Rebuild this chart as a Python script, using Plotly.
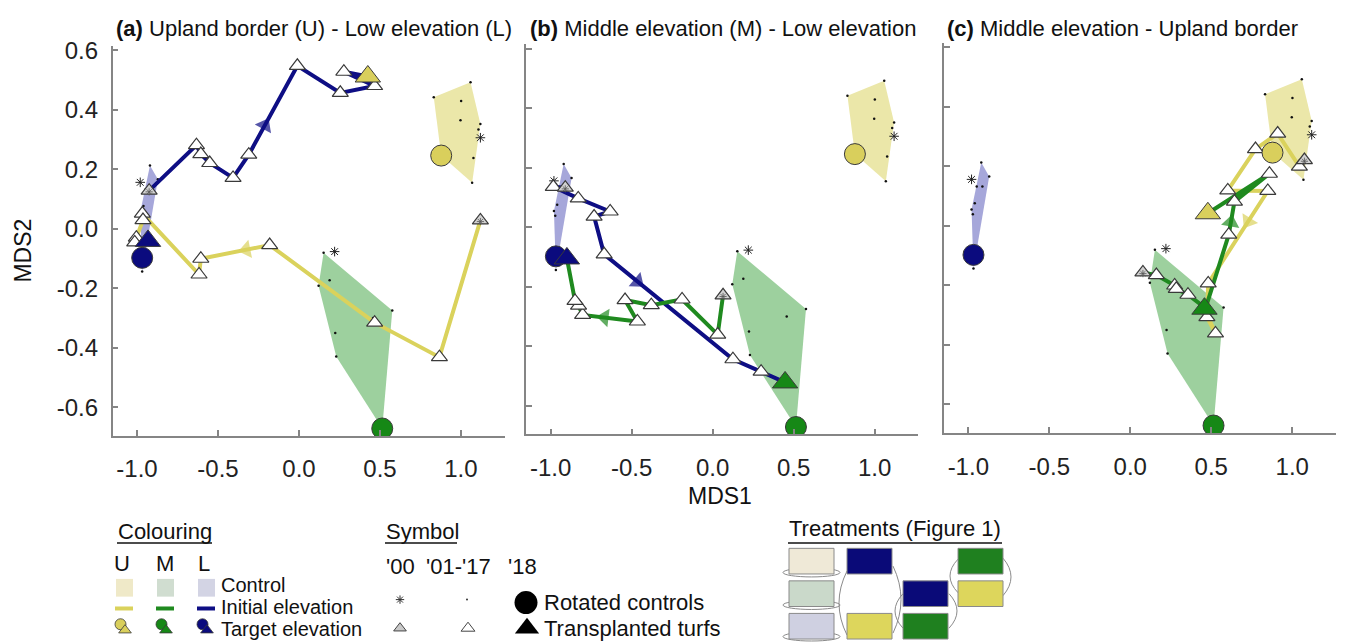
import plotly.graph_objects as go

# ---------------- data ----------------
# Control plots (shared by all panels): '01-'17 dots, '00 star, '18 rotated control circle
U_ctrl_x = [0.832, 1.059, 1.001, 0.997, 1.120, 1.108, 1.077, 1.069]
U_ctrl_y = [0.442, 0.493, 0.430, 0.365, 0.352, 0.334, 0.238, 0.155]
U_ctrl00 = [1.120, 0.306]
U_rot18 = [0.878, 0.246]

M_ctrl_x = [0.152, 0.121, 0.189, 0.576, 0.457, 0.224, 0.230]
M_ctrl_y = [-0.081, -0.192, -0.173, -0.275, -0.300, -0.351, -0.430]
M_ctrl00 = [0.220, -0.077]
M_rot18 = [0.514, -0.672]

L_ctrl_x = [-0.920, -0.871, -0.948, -0.913, -0.960, -0.980, -0.972, -0.968]
L_ctrl_y = [0.213, 0.166, 0.132, 0.132, 0.076, 0.055, 0.039, -0.144]
L_ctrl00 = [-0.980, 0.156]
L_rot18 = [-0.968, -0.098]

# Transplant trajectories: first = '00, last = '18 (target elevation)
A_L_to_U_x = [-0.925, -0.633, -0.606, -0.551, -0.407, -0.310, -0.010, 0.255, 0.467, 0.277, 0.425]
A_L_to_U_y = [0.128, 0.281, 0.251, 0.221, 0.171, 0.249, 0.548, 0.457, 0.480, 0.528, 0.512]
A_U_to_L_x = [1.120, 0.867, 0.467, -0.181, -0.606, -0.617, -0.967, -0.963, -1.004, -1.014, -0.932]
A_U_to_L_y = [0.028, -0.432, -0.316, -0.055, -0.101, -0.154, 0.051, 0.029, -0.030, -0.046, -0.041]

B_L_to_M_x = [-0.910, -0.984, -0.830, -0.633, -0.732, -0.670, 0.125, 0.299, 0.447]
B_L_to_M_y = [0.133, 0.136, 0.097, 0.053, 0.036, -0.091, -0.444, -0.486, -0.522]
B_M_to_L_x = [0.064, 0.031, -0.189, -0.379, -0.541, -0.465, -0.803, -0.828, -0.850, -0.900]
B_M_to_L_y = [-0.229, -0.361, -0.243, -0.262, -0.245, -0.317, -0.295, -0.264, -0.248, -0.105]

C_U_to_M_x = [1.075, 1.044, 0.910, 0.773, 0.602, 0.849, 0.481, 0.473, 0.526, 0.458]
C_U_to_M_y = [0.221, 0.199, 0.310, 0.258, 0.119, 0.117, -0.194, -0.307, -0.362, -0.279]
C_M_to_U_x = [0.078, 0.161, 0.274, 0.284, 0.356, 0.465, 0.608, 0.643, 0.859, 0.479]
C_M_to_U_y = [-0.157, -0.166, -0.201, -0.212, -0.232, -0.277, -0.030, 0.081, 0.175, 0.042]

panel_titles = ["<b>(a)</b> Upland border (U) - Low elevation (L)",
                "<b>(b)</b> Middle elevation (M) - Low elevation",
                "<b>(c)</b> Middle elevation - Upland border"]
x_tickvals = [-1.0, -0.5, 0.0, 0.5, 1.0]
x_ticktext = ["-1.0", "-0.5", "0.0", "0.5", "1.0"]
y_tickvals = [-0.6, -0.4, -0.2, 0.0, 0.2, 0.4, 0.6]
y_ticktext = ["-0.6", "-0.4", "-0.2", "0.0", "0.2", "0.4", "0.6"]

# ---------------- style ----------------
FONT = "Liberation Sans, Arial, sans-serif"
W, H = 1346, 642
COL = {
    "U": dict(hull="#ebe7a9", line="#dad25c", mark="#d9cf5c"),
    "M": dict(hull="#9dd09e", line="#1f8a1f", mark="#168816"),
    "L": dict(hull="#a6a7da", line="#0e0e84", mark="#0b0b7e"),
}
EDGE = "#3a3a3a"


def convex_hull(xs, ys):
    pts = sorted(set(zip(xs, ys)))

    def cross(o, a, b):
        return (a[0] - o[0]) * (b[1] - o[1]) - (a[1] - o[1]) * (b[0] - o[0])

    lower, upper = [], []
    for p in pts:
        while len(lower) >= 2 and cross(lower[-2], lower[-1], p) <= 0:
            lower.pop()
        lower.append(p)
    for p in reversed(pts):
        while len(upper) >= 2 and cross(upper[-2], upper[-1], p) <= 0:
            upper.pop()
        upper.append(p)
    h = lower[:-1] + upper[:-1]
    h.append(h[0])
    return [p[0] for p in h], [p[1] for p in h]


controls = [
    ("U", U_ctrl_x, U_ctrl_y, U_ctrl00, U_rot18),
    ("M", M_ctrl_x, M_ctrl_y, M_ctrl00, M_rot18),
    ("L", L_ctrl_x, L_ctrl_y, L_ctrl00, L_rot18),
]

# (x, y, initial colour, target colour, arrow segment, arrow fraction)
panels = [
    [(A_L_to_U_x, A_L_to_U_y, "L", "U", 5, 0.33), (A_U_to_L_x, A_U_to_L_y, "U", "L", 3, 0.34)],
    [(B_L_to_M_x, B_L_to_M_y, "L", "M", 5, 0.26), (B_M_to_L_x, B_M_to_L_y, "M", "L", 5, 0.60)],
    [(C_U_to_M_x, C_U_to_M_y, "U", "M", 5, 0.33), (C_M_to_U_x, C_M_to_U_y, "M", "U", 6, 0.37)],
]

fig = go.Figure()

for k, paths in enumerate(panels, start=1):
    xa = "x" if k == 1 else f"x{k}"
    ya = "y" if k == 1 else f"y{k}"
    # hulls
    for key, cx, cy, c00, c18 in controls:
        hx, hy = convex_hull(cx + [c18[0]], cy + [c18[1]])
        fig.add_trace(go.Scatter(x=hx, y=hy, xaxis=xa, yaxis=ya, mode="lines", fill="toself",
                                 fillcolor=COL[key]["hull"], line=dict(width=0), hoverinfo="skip"))
    for key, cx, cy, c00, c18 in controls:
        fig.add_trace(go.Scatter(x=cx, y=cy, xaxis=xa, yaxis=ya, mode="markers",
                                 marker=dict(size=2.5, color="#111"), hoverinfo="skip"))
        fig.add_trace(go.Scatter(x=[c00[0]], y=[c00[1]], xaxis=xa, yaxis=ya, mode="markers",
                                 marker=dict(symbol="asterisk-open", size=8, color="#222",
                                             line=dict(width=1, color="#222")),
                                 hoverinfo="skip"))
    # trajectory lines
    for px, py, ini, tgt, seg, frac in paths:
        fig.add_trace(go.Scatter(x=px, y=py, xaxis=xa, yaxis=ya, mode="lines",
                                 line=dict(width=4, color=COL[ini]["line"]), hoverinfo="skip"))
    for px, py, ini, tgt, seg, frac in paths:
        ax = px[seg] + frac * (px[seg + 1] - px[seg])
        ay = py[seg] + frac * (py[seg + 1] - py[seg])
        fig.add_trace(go.Scatter(x=[px[seg], ax], y=[py[seg], ay], xaxis=xa, yaxis=ya, mode="markers",
                                 marker=dict(symbol="triangle-up", size=[0, 16], angleref="previous",
                                             color=COL[ini]["line"], line=dict(width=0)),
                                 hoverinfo="skip"))
    # yearly triangles
    for px, py, ini, tgt, seg, frac in paths:
        fig.add_trace(go.Scatter(x=px[1:-1], y=py[1:-1], xaxis=xa, yaxis=ya, mode="markers",
                                 marker=dict(symbol="triangle-up", size=14, color="white",
                                             line=dict(width=1.2, color=EDGE)), hoverinfo="skip"))
        fig.add_trace(go.Scatter(x=[px[0]], y=[py[0]], xaxis=xa, yaxis=ya, mode="markers",
                                 marker=dict(symbol="triangle-up", size=14, color="#d2d2d2",
                                             line=dict(width=1.2, color=EDGE)), hoverinfo="skip"))
        fig.add_trace(go.Scatter(x=[px[0]], y=[py[0] - 0.004], xaxis=xa, yaxis=ya, mode="markers",
                                 marker=dict(symbol="asterisk-open", size=6, color="#555",
                                             line=dict(width=0.8, color="#555")),
                                 hoverinfo="skip"))
    # rotated controls ('18)
    for key, cx, cy, c00, c18 in controls:
        fig.add_trace(go.Scatter(x=[c18[0]], y=[c18[1]], xaxis=xa, yaxis=ya, mode="markers",
                                 marker=dict(symbol="circle", size=21, color=COL[key]["mark"],
                                             line=dict(width=1, color=EDGE)), hoverinfo="skip"))
    # transplanted turfs ('18)
    for px, py, ini, tgt, seg, frac in paths:
        fig.add_trace(go.Scatter(x=[px[-1]], y=[py[-1]], xaxis=xa, yaxis=ya, mode="markers",
                                 marker=dict(symbol="triangle-up", size=22, color=COL[tgt]["mark"],
                                             line=dict(width=1, color=EDGE)), hoverinfo="skip"))

# ---------------- legend (overlay in pixel space) ----------------
def lg(x, y, **m):
    fig.add_trace(go.Scatter(x=x, y=y, xaxis="x4", yaxis="y4", mode="markers", marker=m, hoverinfo="skip"))

icon_x = [120.5, 161.5, 202.5]
for key, ix in zip(["U", "M", "L"], icon_x):
    lg([ix], [624], symbol="circle", size=11, color=COL[key]["mark"], line=dict(width=0.8, color=EDGE))
    lg([ix + 4.5], [630], symbol="triangle-up", size=11, color=COL[key]["mark"], line=dict(width=0.8, color=EDGE))
lg([400], [599], symbol="asterisk-open", size=7, color="#333", line=dict(width=1, color="#333"))
lg([467], [599], symbol="circle", size=2, color="#333")
lg([400], [628], symbol="triangle-up", size=11, color="#c9c9c9", line=dict(width=1, color="#444"))
lg([468], [628], symbol="triangle-up", size=12, color="white", line=dict(width=1, color="#444"))
lg([526], [602], symbol="circle", size=23, color="black")
lg([527], [628], symbol="triangle-up", size=21, color="black")

shapes = []
for key, x0 in zip(["U", "M", "L"], [116, 157, 198]):
    fill = {"U": "#efe9c8", "M": "#d0ddd0", "L": "#d3d4e4"}[key]
    shapes.append(dict(type="rect", xref="x4", yref="y4", x0=x0, x1=x0 + 17, y0=578, y1=596,
                       fillcolor=fill, line=dict(width=0)))
    shapes.append(dict(type="line", xref="x4", yref="y4", x0=x0 - 1, x1=x0 + 17, y0=608, y1=608,
                       line=dict(width=4, color=COL[key]["line"])))

# Treatments diagram
ARC = dict(color="#8a8a8a", width=1)
for yb in [573, 606, 638]:
    shapes.append(dict(type="circle", xref="x4", yref="y4", x0=783, x1=840, y0=yb - 6, y1=yb + 3,
                       line=ARC))
arcs = [(847, 570, 635, -8), (893, 565, 633, 8), (903, 593, 628, -8), (949, 593, 628, 8),
        (958, 558, 592, -8), (1003, 557, 595, 8)]
for ax_, ya0, ya1, b in arcs:
    shapes.append(dict(type="path", xref="x4", yref="y4",
                       path=f"M {ax_},{ya0} Q {ax_ + 2 * b},{(ya0 + ya1) / 2} {ax_},{ya1}", line=ARC))
boxes = [(789, 547, "#efe9d7"), (789, 580, "#cad9ca"), (789, 613, "#cfd0e1"),
         (847, 547, "#0a0a78"), (847, 613, "#ddd65c"),
         (903, 580, "#0a0a78"), (903, 613, "#1f801f"),
         (958, 547, "#1f801f"), (958, 580, "#ddd65c")]
for bx, by, bc in boxes:
    shapes.append(dict(type="rect", xref="x4", yref="y4", x0=bx, x1=bx + 45, y0=by, y1=by + 26,
                       fillcolor=bc, line=dict(width=1, color="#8a8a8a")))
# underlines of legend headers
for x0, x1 in [(117, 212), (385, 457), (788, 1002)]:
    shapes.append(dict(type="line", xref="x4", yref="y4", x0=x0, x1=x1, y0=541.5, y1=541.5,
                       line=dict(width=1.5, color="#111")))

ann = []


def txt(x, y, s, size, anchor="left", **kw):
    ann.append(dict(x=x, y=y, xref="x4", yref="y4", text=s, showarrow=False, xanchor=anchor,
                    yanchor="middle", font=dict(family=FONT, size=size, color="#111"), **kw))


txt(116, 530, "Colouring", 22)
txt(122, 562, "U", 22, "center")
txt(165, 562, "M", 22, "center")
txt(204, 562, "L", 22, "center")
txt(219, 584, "Control", 20)
txt(219, 607, "Initial elevation", 20)
txt(219, 629, "Target elevation", 20)
txt(384, 530, "Symbol", 22)
txt(384, 565, "'00", 22)
txt(424, 565, "'01-'17", 22)
txt(506, 565, "'18", 22)
txt(542, 602, "Rotated controls", 22)
txt(542, 628, "Transplanted turfs", 22)
txt(787, 527, "Treatments (Figure 1)", 22)
# panel titles
for t, x0 in zip(panel_titles, [114, 528, 945]):
    txt(x0, 20, t, 22)
# axis titles
txt(23, 245, "MDS2", 23, "center", textangle=-90)
txt(720, 494, "MDS1", 23, "center")

# ---------------- axes ----------------
def X(p):
    return p / W


def Y(p):
    return 1 - p / H


axbase = dict(showgrid=False, zeroline=False, showline=True, linecolor="#858585", linewidth=1.5,
              ticks="inside", ticklen=6, tickwidth=1.5, tickcolor="#858585", mirror=False,
              tickfont=dict(family=FONT, size=24, color="#222"))
xdoms = [(112.7, 504.7), (526.4, 918.4), (944.0, 1336.0)]
yshift = [0, 1.5, 3.0]
layout = dict(width=W, height=H, autosize=False, margin=dict(l=0, r=0, t=0, b=0),
              paper_bgcolor="white", plot_bgcolor="rgba(0,0,0,0)", showlegend=False,
              font=dict(family=FONT), shapes=shapes, annotations=ann)
for i in range(3):
    sx = "" if i == 0 else str(i + 1)
    layout["xaxis" + sx] = dict(axbase, domain=[X(xdoms[i][0]), X(xdoms[i][1])], range=[-1.15, 1.27],
                                tickvals=x_tickvals, ticktext=x_ticktext, anchor="y" + sx,
                                ticklabelstandoff=11)
    layout["yaxis" + sx] = dict(axbase, domain=[Y(433 - yshift[i]), Y(37.4 - yshift[i])], range=[-0.697, 0.615],
                                tickvals=y_tickvals, ticktext=y_ticktext, anchor="x" + sx,
                                showticklabels=(i == 0), ticklabelstandoff=8)
layout["xaxis4"] = dict(domain=[0, 1], range=[0, W], visible=False, anchor="y4", fixedrange=True)
layout["yaxis4"] = dict(domain=[0, 1], range=[H, 0], visible=False, anchor="x4", fixedrange=True)
fig.update_layout(**layout)

fig.write_html("out.html", config={"displayModeBar": False},
               post_script="document.body.style.margin='0px';document.body.style.overflow='hidden';")
